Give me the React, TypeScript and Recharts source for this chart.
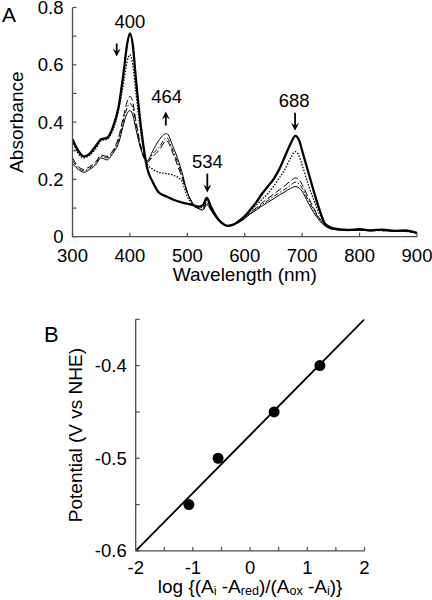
import React from "react"
import {
  LineChart,
  ComposedChart,
  Line,
  Scatter,
  XAxis,
  YAxis,
  Label,
  ReferenceDot,
} from "recharts"

// ---- panel A: absorption spectra during the titration ----
const wavelengths = [
  300, 310, 320, 330, 340, 350, 360, 370, 380, 390, 395, 400, 405, 410, 420, 430, 440, 450,
  464, 475, 490, 500, 510, 520, 527, 534, 541, 550, 560, 570, 580, 590, 600, 610, 620, 630,
  640, 650, 660, 670, 680, 688, 695, 700, 710, 720, 730, 740, 750, 760, 780, 800, 820, 840,
  860, 880, 900,
]
const spectrum0 = [
  0.34, 0.3, 0.28, 0.29, 0.315, 0.34, 0.345, 0.38, 0.45, 0.59, 0.67, 0.71, 0.67, 0.56, 0.37, 0.24, 0.19, 0.155,
  0.14, 0.13, 0.12, 0.115, 0.11, 0.105, 0.11, 0.135, 0.105, 0.072, 0.048, 0.038, 0.042, 0.055, 0.072, 0.095, 0.12, 0.15,
  0.175, 0.2, 0.235, 0.28, 0.325, 0.352, 0.335, 0.3, 0.23, 0.16, 0.095, 0.045, 0.032, 0.027, 0.024, 0.026, 0.022, 0.025,
  0.02, 0.022, 0.013,
]
const spectrum1 = [
  0.335, 0.29, 0.275, 0.285, 0.305, 0.335, 0.34, 0.37, 0.44, 0.55, 0.61, 0.635, 0.6, 0.51, 0.35, 0.255, 0.235, 0.225,
  0.22, 0.215, 0.195, 0.14, 0.11, 0.1, 0.105, 0.128, 0.1, 0.07, 0.047, 0.038, 0.042, 0.054, 0.07, 0.09, 0.11, 0.13,
  0.15, 0.175, 0.205, 0.235, 0.275, 0.297, 0.28, 0.25, 0.185, 0.13, 0.08, 0.045, 0.03, 0.026, 0.023, 0.025, 0.023, 0.022,
  0.021, 0.02, 0.014,
]
const spectrum2 = [
  0.275, 0.245, 0.235, 0.245, 0.26, 0.285, 0.28, 0.3, 0.345, 0.43, 0.47, 0.49, 0.47, 0.41, 0.31, 0.26, 0.28, 0.3,
  0.335, 0.29, 0.21, 0.155, 0.115, 0.1, 0.098, 0.122, 0.098, 0.07, 0.047, 0.038, 0.042, 0.053, 0.067, 0.085, 0.1, 0.118,
  0.133, 0.148, 0.163, 0.178, 0.195, 0.205, 0.198, 0.182, 0.14, 0.1, 0.065, 0.04, 0.028, 0.025, 0.022, 0.024, 0.021, 0.023,
  0.019, 0.021, 0.012,
]
const spectrum3 = [
  0.265, 0.24, 0.23, 0.24, 0.255, 0.28, 0.275, 0.295, 0.335, 0.415, 0.45, 0.465, 0.45, 0.395, 0.3, 0.26, 0.29, 0.31,
  0.345, 0.3, 0.22, 0.155, 0.113, 0.098, 0.095, 0.118, 0.095, 0.068, 0.046, 0.038, 0.042, 0.052, 0.065, 0.082, 0.097, 0.112,
  0.126, 0.14, 0.153, 0.166, 0.18, 0.19, 0.184, 0.17, 0.13, 0.094, 0.062, 0.039, 0.028, 0.024, 0.023, 0.022, 0.024, 0.02,
  0.022, 0.018, 0.013,
]
const spectrum4 = [
  0.255, 0.235, 0.225, 0.235, 0.25, 0.275, 0.268, 0.29, 0.325, 0.4, 0.43, 0.44, 0.425, 0.38, 0.3, 0.265, 0.3, 0.335,
  0.36, 0.315, 0.23, 0.155, 0.115, 0.097, 0.093, 0.112, 0.092, 0.066, 0.045, 0.037, 0.041, 0.05, 0.063, 0.08, 0.093, 0.107,
  0.12, 0.132, 0.145, 0.157, 0.169, 0.175, 0.17, 0.158, 0.12, 0.085, 0.056, 0.037, 0.027, 0.024, 0.021, 0.024, 0.02, 0.023,
  0.02, 0.019, 0.012,
]
const wlTicks = [300, 400, 500, 600, 700, 800, 900]
const absTicks = [0, 0.1, 0.2, 0.3, 0.4, 0.5, 0.6, 0.7, 0.8]

// ---- panel B: Nernst plot ----
const logRatio = [-1.07, -0.56, 0.42, 1.22]
const potential = [-0.55, -0.5, -0.45, -0.4]
const fitX = [-2, 2]
const fitY = [-0.6, -0.35]
const logTicks = [-2, -1.5, -1, -0.5, 0, 0.5, 1, 1.5, 2]
const potTicks = [-0.6, -0.55, -0.5, -0.45, -0.4, -0.35]

const spectra = wavelengths.map((wl, i) => ({
  wl,
  s0: spectrum0[i],
  s1: spectrum1[i],
  s2: spectrum2[i],
  s3: spectrum3[i],
  s4: spectrum4[i],
}))
const nernstPoints = logRatio.map((x, i) => ({ x, y: potential[i] }))
const nernstFit = fitX.map((x, i) => ({ x, y: fitY[i] }))

const FONT = "'Liberation Sans', Arial, Helvetica, sans-serif"
const AXIS = "#4d4d4d"
const TICK_LEN = 4
const TICK_FONT = 18.5

type Side = "left" | "right" | "top" | "bottom"

// inward tick marks, optional label outside the frame
function makeTick(side: Side, fmt?: (v: number) => string | null, offset = 25) {
  return (p: any) => {
    const { x, y, payload } = p
    const v = payload.value
    const label = fmt ? fmt(v) : null
    let seg = { x1: x, y1: y, x2: x, y2: y }
    if (side === "left") seg = { x1: x, y1: y, x2: x + TICK_LEN, y2: y }
    if (side === "right") seg = { x1: x, y1: y, x2: x - TICK_LEN, y2: y }
    if (side === "bottom") seg = { x1: x, y1: y, x2: x, y2: y - TICK_LEN }
    if (side === "top") seg = { x1: x, y1: y, x2: x, y2: y + TICK_LEN }
    return (
      <g>
        <line {...seg} stroke={AXIS} strokeWidth={1.2} />
        {label !== null && side === "left" && (
          <text x={x - 9} y={y + 6.5} textAnchor="end" fontSize={TICK_FONT} fontFamily={FONT} fill="#000">
            {label}
          </text>
        )}
        {label !== null && side === "bottom" && (
          <text x={x} y={y + offset} textAnchor="middle" fontSize={TICK_FONT} fontFamily={FONT} fill="#000">
            {label}
          </text>
        )}
      </g>
    )
  }
}

const isStep = (v: number, step: number) => Math.abs(v / step - Math.round(v / step)) < 1e-6

const annotations = [
  { text: "400", lx: 400, ly: 0.728, ax: 377, ay: 0.629, dir: "down", len: 13 },
  { text: "464", lx: 464, ly: 0.466, ax: 462.5, ay: 0.437, dir: "up", len: 14 },
  { text: "534", lx: 535, ly: 0.239, ax: 534.8, ay: 0.154, dir: "down", len: 19 },
  { text: "688", lx: 686, ly: 0.454, ax: 687.6, ay: 0.37, dir: "down", len: 18 },
]

const arrowShape = (dir: string, len: number) => (p: any) => {
  const { cx, cy } = p
  const down = dir === "down"
  const tail = down ? cy - len : cy + len
  const base = down ? cy - 8 : cy + 8
  const notch = down ? cy - 5 : cy + 5
  return (
    <g>
      <line x1={cx} x2={cx} y1={tail} y2={notch} stroke="#000" strokeWidth={1.8} />
      <path d={`M${cx},${cy} L${cx - 4},${base} L${cx},${notch} L${cx + 4},${base} Z`} fill="#000" />
    </g>
  )
}

const textShape = (text: string) => (p: any) => (
  <text x={p.cx} y={p.cy} textAnchor="middle" fontSize={TICK_FONT} fontFamily={FONT} fill="#000">
    {text}
  </text>
)

function SpectraPanel() {
  return (
    <LineChart
      width={432}
      height={290}
      data={spectra}
      margin={{ top: 7.5, right: 15, left: 0, bottom: 23.3 }}
    >
      <XAxis
        xAxisId="b"
        dataKey="wl"
        type="number"
        domain={[300, 900]}
        ticks={wlTicks}
        interval={0}
        allowDataOverflow
        height={30}
        tickSize={0}
        tickMargin={0}
        tickLine={false}
        axisLine={{ stroke: AXIS, strokeWidth: 1.3 }}
        tick={makeTick("bottom", (v) => String(v), 25)}
      >
        <Label
          content={(p: any) => {
            const vb = p.viewBox || { x: 72.5, y: 236.7, width: 344.5 }
            return (
              <text x={vb.x + vb.width / 2} y={vb.y + 44.3} textAnchor="middle" fontSize={19} fontFamily={FONT} fill="#000">
                Wavelength (nm)
              </text>
            )
          }}
        />
      </XAxis>
      <XAxis
        xAxisId="t"
        orientation="top"
        type="number"
        domain={[300, 900]}
        ticks={wlTicks}
        interval={0}
        allowDataOverflow
        height={0}
        tickSize={0}
        tickMargin={0}
        tickLine={false}
        axisLine={{ stroke: AXIS, strokeWidth: 1.3 }}
        tick={makeTick("top")}
      />
      <YAxis
        yAxisId="l"
        type="number"
        domain={[0, 0.8]}
        ticks={absTicks}
        interval={0}
        allowDataOverflow
        width={72.5}
        tickSize={0}
        tickMargin={0}
        tickLine={false}
        axisLine={{ stroke: AXIS, strokeWidth: 1.3 }}
        tick={makeTick("left", (v) => (isStep(v, 0.2) ? (v === 0 ? "0" : v.toFixed(1)) : null))}
      >
        <Label
          content={(p: any) => {
            const vb = p.viewBox || { x: 0, y: 7.5, height: 229.2 }
            const cy = vb.y + vb.height / 2
            return (
              <text
                x={23}
                y={cy}
                transform={`rotate(-90, 23, ${cy})`}
                textAnchor="middle"
                fontSize={19}
                fontFamily={FONT}
                fill="#000"
              >
                Absorbance
              </text>
            )
          }}
        />
      </YAxis>
      <YAxis
        yAxisId="r"
        orientation="right"
        type="number"
        domain={[0, 0.8]}
        ticks={absTicks}
        interval={0}
        allowDataOverflow
        width={0}
        tickSize={0}
        tickMargin={0}
        tickLine={false}
        axisLine={{ stroke: AXIS, strokeWidth: 1.3 }}
        tick={makeTick("right")}
      />
      <Line xAxisId="b" yAxisId="l" type="monotone" dataKey="s4" stroke="#000" strokeWidth={1} dot={false} isAnimationActive={false} />
      <Line xAxisId="b" yAxisId="l" type="monotone" dataKey="s3" stroke="#000" strokeWidth={1} strokeDasharray="5 2 1.5 2" dot={false} isAnimationActive={false} />
      <Line xAxisId="b" yAxisId="l" type="monotone" dataKey="s2" stroke="#000" strokeWidth={1} strokeDasharray="7 3" dot={false} isAnimationActive={false} />
      <Line xAxisId="b" yAxisId="l" type="monotone" dataKey="s1" stroke="#000" strokeWidth={1.3} strokeDasharray="1.5 1.5" dot={false} isAnimationActive={false} />
      <Line xAxisId="b" yAxisId="l" type="monotone" dataKey="s0" stroke="#000" strokeWidth={2.3} dot={false} isAnimationActive={false} />
      {annotations.map((a) => (
        <ReferenceDot key={a.text + "t"} xAxisId="b" yAxisId="l" x={a.lx} y={a.ly} r={0} shape={textShape(a.text)} />
      ))}
      {annotations.map((a) => (
        <ReferenceDot key={a.text + "a"} xAxisId="b" yAxisId="l" x={a.ax} y={a.ay} r={0} shape={arrowShape(a.dir, a.len)} />
      ))}
    </LineChart>
  )
}

function NernstPanel() {
  return (
    <ComposedChart
      width={432}
      height={304}
      margin={{ top: 23.3, right: 67.5, left: 0, bottom: 19.1 }}
    >
      <XAxis
        xAxisId="b"
        dataKey="x"
        type="number"
        domain={[-2, 2]}
        ticks={logTicks}
        interval={0}
        allowDataOverflow
        height={30}
        tickSize={0}
        tickMargin={0}
        tickLine={false}
        axisLine={{ stroke: AXIS, strokeWidth: 1.3 }}
        tick={makeTick("bottom", (v) => (isStep(v, 1) ? String(v) : null), 23.5)}
      >
        <Label
          content={(p: any) => {
            const vb = p.viewBox || { x: 135.7, y: 254.9, width: 228.8 }
            const sub = { fontSize: 12.5, dy: 2 }
            return (
              <text x={vb.x + vb.width / 2} y={vb.y + 42.1} textAnchor="middle" fontSize={19} fontFamily={FONT} fill="#000">
                log {"{"}(A<tspan {...sub}>i</tspan>
                <tspan dy={-2}> -A</tspan>
                <tspan {...sub}>red</tspan>
                <tspan dy={-2}>)/(A</tspan>
                <tspan {...sub}>ox</tspan>
                <tspan dy={-2}> -A</tspan>
                <tspan {...sub}>i</tspan>
                <tspan dy={-2}>){"}"}</tspan>
              </text>
            )
          }}
        />
      </XAxis>
      <XAxis
        xAxisId="t"
        orientation="top"
        type="number"
        domain={[-2, 2]}
        ticks={logTicks}
        interval={0}
        allowDataOverflow
        height={0}
        tickSize={0}
        tickMargin={0}
        tickLine={false}
        axisLine={{ stroke: AXIS, strokeWidth: 1.3 }}
        tick={makeTick("top")}
      />
      <YAxis
        yAxisId="l"
        type="number"
        domain={[-0.6, -0.35]}
        ticks={potTicks}
        interval={0}
        allowDataOverflow
        width={135.7}
        tickSize={0}
        tickMargin={0}
        tickLine={false}
        axisLine={{ stroke: AXIS, strokeWidth: 1.3 }}
        tick={makeTick("left", (v) => (isStep(v, 0.1) && v > -0.36 === false ? v.toFixed(1) : null))}
      >
        <Label
          content={(p: any) => {
            const vb = p.viewBox || { x: 0, y: 23.3, height: 231.6 }
            const cy = vb.y + vb.height / 2
            return (
              <text
                x={82}
                y={cy}
                transform={`rotate(-90, 82, ${cy})`}
                textAnchor="middle"
                fontSize={19}
                fontFamily={FONT}
                fill="#000"
              >
                Potential (V vs NHE)
              </text>
            )
          }}
        />
      </YAxis>
      <YAxis
        yAxisId="r"
        orientation="right"
        type="number"
        domain={[-0.6, -0.35]}
        ticks={potTicks}
        interval={0}
        allowDataOverflow
        width={0}
        tickSize={0}
        tickMargin={0}
        tickLine={false}
        axisLine={{ stroke: AXIS, strokeWidth: 1.3 }}
        tick={makeTick("right")}
      />
      <Line
        xAxisId="b"
        yAxisId="l"
        data={nernstFit}
        dataKey="y"
        type="linear"
        stroke="#000"
        strokeWidth={1.8}
        dot={false}
        isAnimationActive={false}
      />
      <Scatter
        xAxisId="b"
        yAxisId="l"
        data={nernstPoints}
        dataKey="y"
        fill="#000"
        isAnimationActive={false}
        shape={(p: any) => <circle cx={p.cx} cy={p.cy} r={5.5} fill="#000" />}
      />
    </ComposedChart>
  )
}

export default function App() {
  return (
    <div style={{ position: "absolute", left: 0, top: 0, width: 432, height: 600, background: "#fff", fontFamily: FONT }}>
      <div style={{ position: "absolute", left: 0, top: 0 }}>
        <SpectraPanel />
      </div>
      <div style={{ position: "absolute", left: 0, top: 296 }}>
        <NernstPanel />
      </div>
      <svg width={432} height={600} style={{ position: "absolute", left: 0, top: 0, pointerEvents: "none" }}>
        <text x={2} y={22} fontSize={21} fontFamily={FONT} fill="#000">A</text>
        <text x={44} y={342} fontSize={22} fontFamily={FONT} fill="#000">B</text>
      </svg>
    </div>
  )
}
